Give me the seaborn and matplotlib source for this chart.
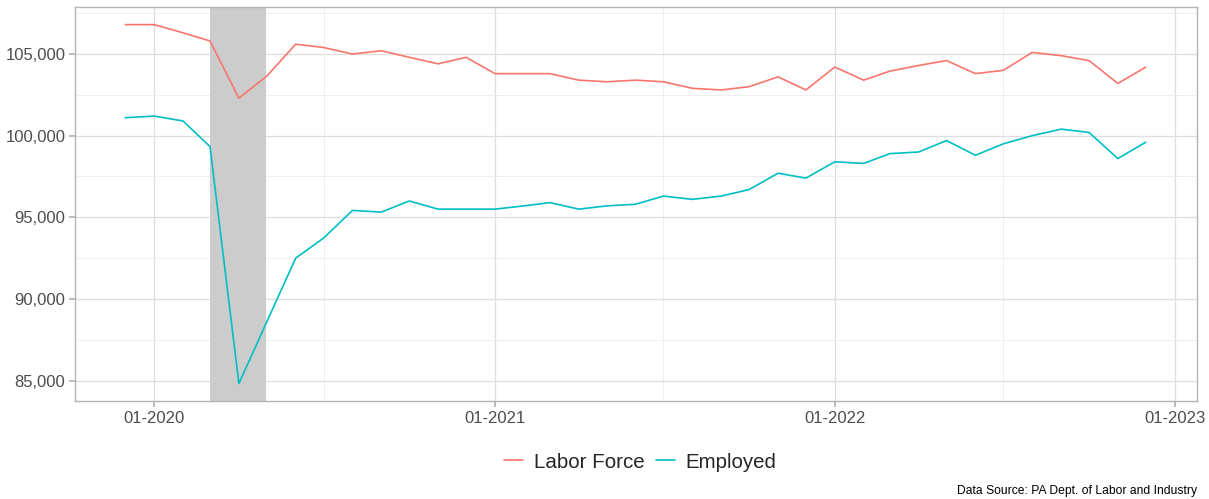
import pandas as pd
import matplotlib
matplotlib.use("Agg")
import matplotlib.pyplot as plt
import matplotlib.dates as mdates
from matplotlib.ticker import FuncFormatter, MultipleLocator
import seaborn as sns

# datos mensuales dic-2019 .. dic-2022
months = pd.date_range("2019-12-01", "2022-12-01", freq="MS")

labor_force = [
    106800,
    106800, 106300, 105800, 102300, 103650, 105600, 105400, 105000, 105200, 104800, 104400, 104800,
    103800, 103800, 103800, 103400, 103300, 103400, 103300, 102900, 102800, 103000, 103600, 102800,
    104200, 103400, 103950, 104300, 104600, 103800, 104000, 105100, 104900, 104600, 103200, 104200,
]
employed = [
    101100,
    101200, 100900, 99330, 84820, 88600, 92500, 93730, 95420, 95320, 96000, 95500, 95500,
    95500, 95700, 95900, 95500, 95700, 95800, 96300, 96100, 96300, 96700, 97700, 97400,
    98400, 98300, 98900, 99000, 99700, 98800, 99500, 100000, 100400, 100200, 98600, 99600,
]
series_names = ["Labor Force", "Employed"]
recession = ("2020-03-01", "2020-04-30")
source_text = "Data Source: PA Dept. of Labor and Industry"

df = pd.DataFrame({
    "Fecha": list(months) * 2,
    "Valor": labor_force + employed,
    "Serie": [series_names[0]] * len(months) + [series_names[1]] * len(months),
})

sns.set_theme(style="whitegrid")
plt.rcParams["font.family"] = ["Liberation Sans", "DejaVu Sans"]

fig = plt.figure(figsize=(12.09, 4.99), dpi=100)
ax = fig.add_axes([75 / 1209, 1 - 401 / 499, (1197 - 75) / 1209, (401 - 7) / 499])

ax.axvspan(pd.Timestamp(recession[0]), pd.Timestamp(recession[1]), color="#CCCCCC", zorder=1, lw=0)

sns.lineplot(
    data=df, x="Fecha", y="Valor", hue="Serie",
    palette=["#F8766D", "#00BFC4"], linewidth=1.2, ax=ax, zorder=3,
)

ax.set_xlim(pd.Timestamp("2019-10-08"), pd.Timestamp("2023-01-25"))
ax.set_ylim(83750, 107880)

ax.xaxis.set_major_locator(mdates.YearLocator())
ax.xaxis.set_minor_locator(mdates.MonthLocator(bymonth=7))
ax.xaxis.set_major_formatter(mdates.DateFormatter("%m-%Y"))
ax.yaxis.set_major_locator(MultipleLocator(5000))
ax.yaxis.set_minor_locator(MultipleLocator(2500))
ax.yaxis.set_major_formatter(FuncFormatter(lambda v, p: f"{int(v):,}"))

ax.set_facecolor("white")
ax.grid(which="major", color="#DEDEDE", linewidth=0.9, zorder=0)
ax.grid(which="minor", color="#EDEDED", linewidth=0.6, zorder=0)
ax.set_axisbelow(True)
for s in ax.spines.values():
    s.set_color("#B3B3B3")
    s.set_linewidth(1.0)

ax.tick_params(axis="both", which="major", length=4, color="#B3B3B3",
               labelsize=12, labelcolor="#4D4D4D", pad=3, bottom=True, left=True)
ax.tick_params(axis="both", which="minor", length=0)
ax.set_xlabel("")
ax.set_ylabel("")

leg = ax.legend(
    loc="center", bbox_to_anchor=(640 / 1209, 1 - 462 / 499), bbox_transform=fig.transFigure,
    ncol=2, frameon=False, fontsize=14.8, handlelength=0.95, handletextpad=0.5, columnspacing=0.55,
    title=None,
)

fig.text(1197 / 1209, 1 - 494 / 499, source_text, ha="right", va="baseline", fontsize=8.7, color="black")

fig.savefig("out.png", dpi=100, facecolor="white")
